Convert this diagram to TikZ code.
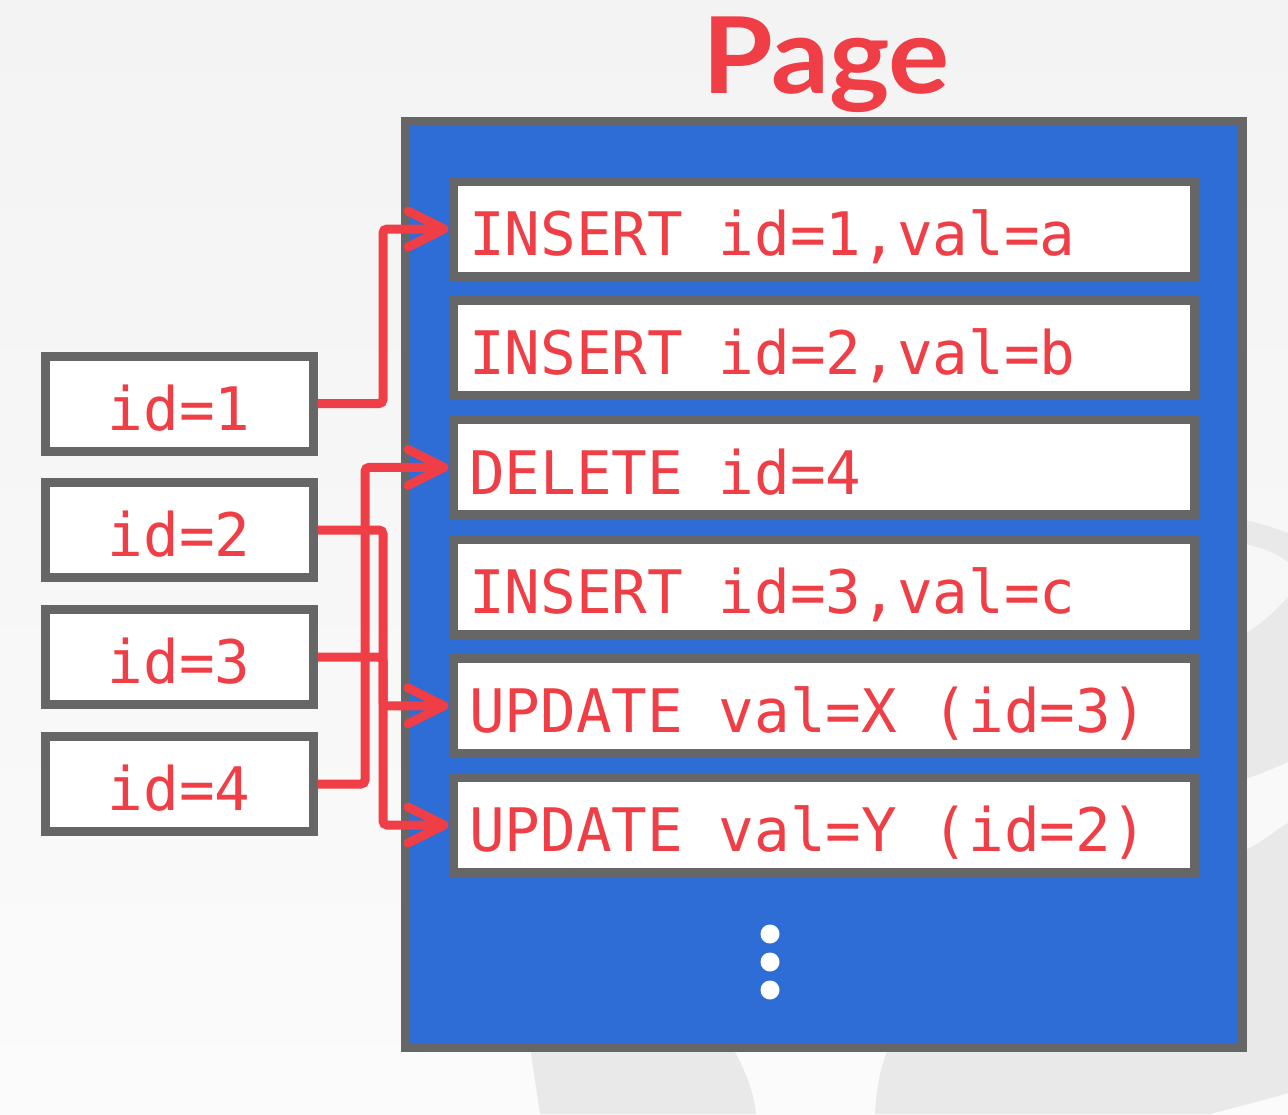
\documentclass[tikz,border=0pt]{standalone}
\usepackage{fontspec}
\setmonofont{DejaVu Sans Mono}[FakeStretch=0.988]
\newfontfamily\titlefont{Lato}[FakeStretch=1.08]
\usetikzlibrary{arrows.meta,calc}
\newlength{\pxu}\setlength{\pxu}{0.75pt}
\protected\def\codesetup{\ttfamily\fontsize{45}{54}\selectfont}
\protected\def\monospacing{\spaceskip=26.77pt\relax\xspaceskip=26.77pt\relax}
\definecolor{pagered}{RGB}{239,62,69}
\definecolor{pageblue}{RGB}{46,108,214}
\definecolor{boxgray}{RGB}{102,102,102}
\definecolor{bgtop}{RGB}{243,243,243}
\definecolor{bgbot}{RGB}{251,251,251}
\definecolor{wmark}{RGB}{233,233,233}
\tikzset{
  codefont/.style={font=\codesetup},
  entry/.style={codefont, draw=boxgray, fill=white, line width=9\pxu,
    minimum width=741\pxu, minimum height=95\pxu, inner xsep=16\pxu, inner ysep=0pt,
    text width=709\pxu, align=left, text height=40pt, text depth=0pt, text=pagered,
    execute at begin node=\monospacing},
  keybox/.style={codefont, draw=boxgray, fill=white, line width=9\pxu,
    minimum width=267.5\pxu, minimum height=95\pxu, inner sep=0pt,
    text height=40pt, text depth=0pt, text=pagered},
  pagebox/.style={draw=boxgray, fill=pageblue, line width=9\pxu,
    minimum width=837\pxu, minimum height=926\pxu, inner sep=0pt},
  conn/.style={draw=pagered, line width=9\pxu, rounded corners=4\pxu,
    -{Straight Barb[length=27pt,width=27pt,line cap=round,line join=round]}},
  dot/.style={circle, fill=white, minimum size=19\pxu, inner sep=0pt},
  titlestyle/.style={font=\titlefont\bfseries\fontsize{79.5}{90}\selectfont, text=pagered}
}
\begin{document}
\begin{tikzpicture}[x=0.75pt,y=-0.75pt]
\useasboundingbox (0,0) rectangle (1288,1114);
\shade[top color=bgtop, bottom color=bgbot] (0,0) rectangle (1288,1114);
% faint watermark
\fill[wmark] (529,1040) -- (728,1040) .. controls (745,1068) and (754,1092) .. (756,1114) -- (540,1114) -- cycle;
\fill[wmark] (892,1040) .. controls (880,1065) and (876,1090) .. (875,1114) -- (1210,1114) .. controls (1240,1106) and (1265,1100) .. (1288,1093) -- (1288,823) .. controls (1275,830) and (1260,845) .. (1240,852) -- (1240,1040) -- cycle;
\fill[wmark] (1240,637) .. controls (1260,625) and (1275,612) .. (1288,597) -- (1288,762) .. controls (1270,770) and (1255,776) .. (1240,781) -- cycle;
\fill[wmark] (1240,519) .. controls (1260,523) and (1275,528) .. (1288,533) -- (1288,562) .. controls (1275,552) and (1260,547) .. (1240,543) -- cycle;

\node[titlestyle, anchor=base] (title) at (826,93) {Page};
\node[pagebox] (page) at (823.5,584) {};

\node[entry] (e1) at (823.5,229.0) {INSERT id=1,val=a};
\node[entry] (e2) at (823.5,348.2) {INSERT id=2,val=b};
\node[entry] (e3) at (823.5,467.4) {DELETE id=4};
\node[entry] (e4) at (823.5,586.6) {INSERT id=3,val=c};
\node[entry] (e5) at (823.5,705.8) {UPDATE val=X (id=3)};
\node[entry] (e6) at (823.5,825.0) {UPDATE val=Y (id=2)};

\node[dot] (d1) at (770,934) {};
\node[dot] (d2) at (770,962) {};
\node[dot] (d3) at (770,990) {};

\node[keybox] (a1) at (179.25,403.5) {id=1};
\node[keybox] (a2) at (179.25,530) {id=2};
\node[keybox] (a3) at (179.25,657) {id=3};
\node[keybox] (a4) at (179.25,784) {id=4};

\coordinate (vA) at (383,0);
\coordinate (vB) at (365,0);

\draw[conn] (a1.east) -- (a1.east -| vA) |- (e1.west);
\draw[conn] (a4.east) -- (a4.east -| vB) |- (e3.west);
\draw[conn] (a2.east) -- (a2.east -| vA) |- (e6.west);
\draw[conn] (a3.east) -- (a3.east -| vA) |- (e5.west);
\end{tikzpicture}
\end{document}
